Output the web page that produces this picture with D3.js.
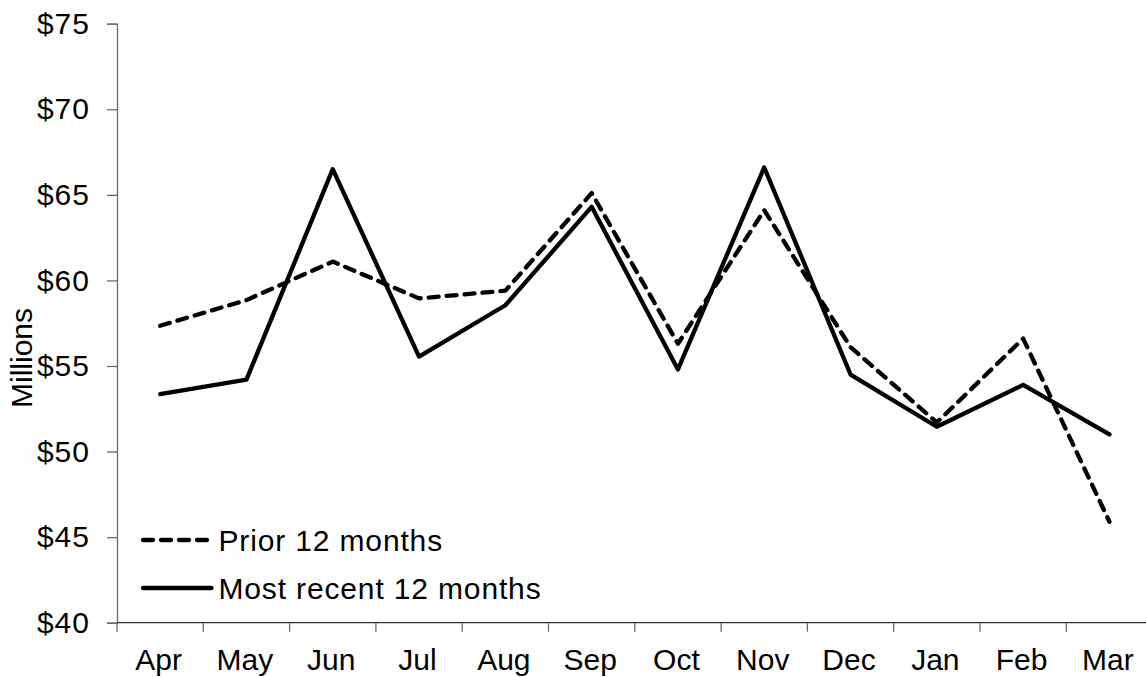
<!DOCTYPE html>
<html>
<head>
<meta charset="utf-8">
<script src="https://cdn.jsdelivr.net/npm/d3@7"></script>
<style>
  html, body { margin: 0; padding: 0; background: #fff; }
  svg text { font-family: "Liberation Sans", Arial, sans-serif; fill: #000; }
</style>
</head>
<body>
<svg id="chart" width="1146" height="677"></svg>
<script>
const months = ["Apr","May","Jun","Jul","Aug","Sep","Oct","Nov","Dec","Jan","Feb","Mar"];
const priorValues  = [57.35, 58.85, 61.1, 58.95, 59.4, 65.1, 56.3, 64.1, 56.1, 51.7, 56.6, 45.9];
const recentValues = [53.35, 54.2, 66.5, 55.55, 58.55, 64.3, 54.8, 66.6, 54.5, 51.45, 53.9, 51.0];
const yTicks = [40, 45, 50, 55, 60, 65, 70, 75];
const seriesNames = ["Prior 12 months", "Most recent 12 months"];

(function () {
const svg = d3.select("#chart");
const pLeft = 117, pRight = 1152.6, pTop = 23.7, pBottom = 622.7;

const x = d3.scaleBand().domain(months).range([pLeft, pRight]).paddingInner(0).paddingOuter(0);
const y = d3.scaleLinear().domain([40, 75]).range([pBottom, pTop]);

// Y axis
const yAxis = svg.append("g").attr("transform", `translate(${pLeft},0)`)
  .call(d3.axisLeft(y).tickValues(yTicks).tickSize(10).tickPadding(17).tickFormat(d => "$" + d));
yAxis.select(".domain").attr("stroke", "#6b6b6b").attr("stroke-width", 1.3);
yAxis.selectAll(".tick line").attr("stroke", "#6b6b6b").attr("stroke-width", 1.3);
yAxis.selectAll("text").attr("font-size", 30).attr("letter-spacing", 1)
  .attr("font-family", "Liberation Sans, Arial, sans-serif").attr("fill", "#000");

// X axis: ticks at band boundaries
const xg = svg.append("g");
xg.append("line").attr("x1", pLeft).attr("x2", pRight).attr("y1", pBottom).attr("y2", pBottom)
  .attr("stroke", "#333").attr("stroke-width", 1.3);
const boundaries = months.map(m => x(m));
xg.selectAll("line.tk").data(boundaries).enter().append("line").attr("class", "tk")
  .attr("x1", d => d).attr("x2", d => d).attr("y1", pBottom).attr("y2", pBottom + 9)
  .attr("stroke", "#6b6b6b").attr("stroke-width", 1.3);
xg.selectAll("text").data(months).enter().append("text")
  .attr("x", d => x(d) + x.bandwidth() / 2 - 1.5)
  .attr("y", 670)
  .attr("text-anchor", "middle")
  .attr("font-size", 30)
  .text(d => d);

// Y title
svg.append("text")
  .attr("transform", "translate(32,358) rotate(-90)")
  .attr("text-anchor", "middle")
  .attr("font-size", 30)
  .text("Millions");

const line = d3.line().x((d, i) => x(months[i]) + x.bandwidth() / 2).y(d => y(d));

svg.append("path").datum(priorValues)
  .attr("d", line).attr("fill", "none").attr("stroke", "#000")
  .attr("stroke-width", 4.3).attr("stroke-dasharray", "10,8").attr("stroke-linecap", "round")
  .attr("stroke-linejoin", "round");

svg.append("path").datum(recentValues)
  .attr("d", line).attr("fill", "none").attr("stroke", "#000")
  .attr("stroke-width", 4.3).attr("stroke-linecap", "round").attr("stroke-linejoin", "round");

// Legend
const legend = svg.append("g");
const legY = [540, 588];
legend.append("line").attr("x1", 143).attr("x2", 211.5).attr("y1", legY[0]).attr("y2", legY[0])
  .attr("stroke", "#000").attr("stroke-width", 4.3).attr("stroke-dasharray", "10,8").attr("stroke-linecap", "round");
legend.append("line").attr("x1", 143).attr("x2", 211.5).attr("y1", legY[1]).attr("y2", legY[1])
  .attr("stroke", "#000").attr("stroke-width", 4.3).attr("stroke-linecap", "round");
legend.selectAll("text").data(seriesNames).enter().append("text")
  .attr("x", 218.5).attr("y", (d, i) => legY[i] + 10.5)
  .attr("font-size", 30)
  .attr("letter-spacing", 0.85)
  .text(d => d);
})();
</script>
</body>
</html>
